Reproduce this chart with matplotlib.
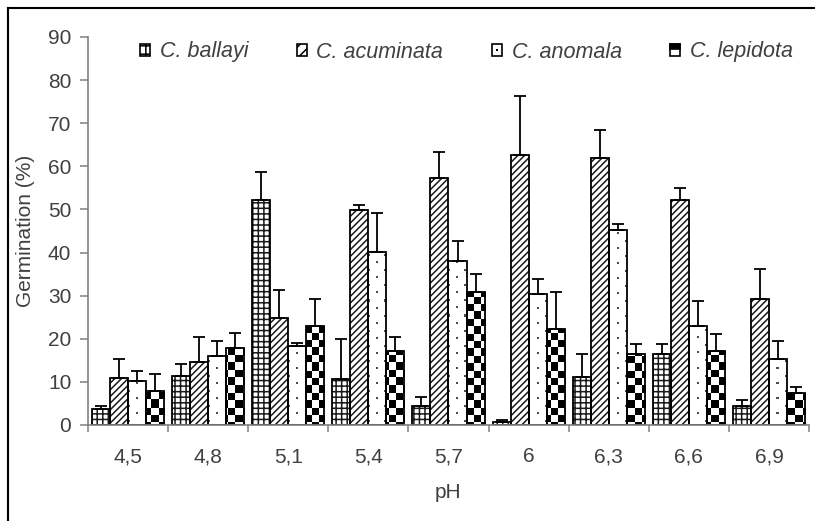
import numpy as np
import matplotlib
matplotlib.use("Agg")
import matplotlib.pyplot as plt
from matplotlib.patches import Rectangle, Patch
from matplotlib.lines import Line2D
from matplotlib.legend_handler import HandlerBase

plt.rcParams['font.family'] = ['Liberation Sans', 'DejaVu Sans']
plt.rcParams['hatch.linewidth'] = 1.1

# ---- data ----
ph_labels = ['4,5', '4,8', '5,1', '5,4', '5,7', '6', '6,3', '6,6', '6,9']
species = ['C. ballayi', 'C. acuminata', 'C. anomala', 'C. lepidota']

ballayi = [3.6, 11.4, 52.2, 10.6, 4.4, 0.8, 11.1, 16.4, 4.4]
ballayi_sd = [0.8, 2.7, 6.6, 9.3, 2.0, 0.4, 5.3, 2.4, 1.5]
acuminata = [11.0, 14.5, 24.9, 49.9, 57.2, 62.6, 62.0, 52.2, 29.2]
acuminata_sd = [4.3, 5.8, 6.3, 1.1, 6.2, 13.7, 6.5, 2.7, 7.1]
anomala = [10.2, 16.0, 18.3, 40.2, 38.1, 30.5, 45.2, 23.0, 15.2]
anomala_sd = [2.3, 3.6, 0.8, 8.9, 4.6, 3.4, 1.5, 5.8, 4.4]
lepidota = [7.9, 17.9, 23.0, 17.2, 30.8, 22.3, 16.4, 17.2, 7.4]
lepidota_sd = [3.9, 3.5, 6.2, 3.1, 4.2, 8.5, 2.4, 3.9, 1.3]

series = [ballayi, acuminata, anomala, lepidota]
errors = [ballayi_sd, acuminata_sd, anomala_sd, lepidota_sd]

W, H = 815, 521
fig = plt.figure(figsize=(W / 100, H / 100), dpi=100)
ax_l, ax_r, ax_b, ax_t = 88, 809, 425, 37
ax = fig.add_axes([ax_l / W, (H - ax_b) / H, (ax_r - ax_l) / W, (ax_b - ax_t) / H])

n = len(ph_labels)
xc = np.arange(n)
bw = 0.225
off = 0.05
YMAX = 90

# textures (pixel resolution of the axes)
pw, ph_ = ax_r - ax_l, ax_b - ax_t
yy, xx = np.indices((ph_, pw))
checker = np.zeros((ph_, pw, 4))
blk = ((xx // 7) + (yy // 7.4).astype(int)) % 2 == 0
checker[blk] = [0, 0, 0, 1]
dots = np.zeros((ph_, pw, 4))
row = (yy // 7.5).astype(int)
ry = (yy % 7.5) < 1.6
cx = ((xx + np.where(row % 2 == 1, 8, 0)) % 16) < 1.6
dots[ry & cx] = [0.3, 0.3, 0.3, 1]

hatches = ['+++', '/////', None, None]
textures = [None, None, dots, checker]

for i, (vals, sd) in enumerate(zip(series, errors)):
    x = xc + off + bw * (i + 0.5)
    if hatches[i]:
        ax.bar(x, vals, bw, facecolor='white', edgecolor='#1a1a1a', linewidth=0,
               hatch=hatches[i], zorder=2)
    else:
        bars = ax.bar(x, vals, bw, facecolor='white', linewidth=0, zorder=2)
        for b in bars:
            im = ax.imshow(textures[i], extent=(0, n, 0, YMAX), aspect='auto',
                           interpolation='nearest', zorder=2.1)
            im.set_clip_path(b)
    ax.bar(x, vals, bw, facecolor='none', edgecolor='black', linewidth=1.3, zorder=2.3)
    ax.errorbar(x, vals, yerr=[np.zeros(n), sd], fmt='none', ecolor='black',
                elinewidth=1.3, capsize=4.5, capthick=1.3, zorder=3)

ax.set_xlim(0, n)
ax.set_ylim(0, YMAX)

txt = '#404040'
for s in ['top', 'right']:
    ax.spines[s].set_visible(False)
for s in ['left', 'bottom']:
    ax.spines[s].set_color('#808080')
    ax.spines[s].set_linewidth(1.2)

ax.set_yticks(np.arange(0, 91, 10))
ax.tick_params(axis='y', length=6, width=1.1, color='#808080', labelsize=15,
               labelcolor=txt, pad=6)
ax.set_xticks(np.arange(0, n + 1))
ax.set_xticklabels([])
ax.tick_params(axis='x', which='major', length=5, width=1.1, color='#808080')
ax.set_xticks(xc + 0.5, minor=True)
ax.set_xticklabels(ph_labels, minor=True)
ax.tick_params(axis='x', which='minor', length=0, labelsize=15, labelcolor=txt, pad=16)

ax.set_xlabel('pH', fontsize=15, color=txt, labelpad=12)
ax.set_ylabel('Germination (%)', fontsize=15, color=txt, labelpad=9)


class LepHandler(HandlerBase):
    def create_artists(self, legend, orig_handle, xdescent, ydescent, width, height,
                       fontsize, trans):
        r = Rectangle((-xdescent, -ydescent), width, height, facecolor='white',
                      edgecolor='black', linewidth=1.2, transform=trans)
        t = Rectangle((-xdescent, -ydescent + height * 0.55), width, height * 0.45,
                      facecolor='black', edgecolor='black', linewidth=1.2, transform=trans)
        return [r, t]


class DotHandler(HandlerBase):
    def create_artists(self, legend, orig_handle, xdescent, ydescent, width, height,
                       fontsize, trans):
        r = Rectangle((-xdescent, -ydescent), width, height, facecolor='white',
                      edgecolor='black', linewidth=1.2, transform=trans)
        d = Rectangle((-xdescent + width * 0.4, -ydescent + height * 0.4), width * 0.2,
                      height * 0.2, facecolor='black', edgecolor='none', transform=trans)
        return [r, d]


h_ball = Patch(facecolor='white', edgecolor='black', hatch='++', linewidth=1.2)
h_acu = Patch(facecolor='white', edgecolor='black', hatch='///', linewidth=1.2)
h_ano = Patch(facecolor='white', edgecolor='black')
h_lep = Patch(facecolor='white', edgecolor='black')

leg = ax.legend([h_ball, h_acu, h_ano, h_lep], species, ncol=4, frameon=False,
                prop={'size': 15.5, 'style': 'italic'}, handlelength=0.47,
                handleheight=0.47, handletextpad=0.45, columnspacing=2.25,
                loc='center left', bbox_to_anchor=((145 - ax_l) / pw - 0.019, (ax_b - 52) / ph_),
                borderaxespad=0,
                handler_map={h_ano: DotHandler(), h_lep: LepHandler()})
for t in leg.get_texts():
    t.set_color(txt)

# outer frame (left and top only visible)
fig.add_artist(Line2D([8 / W, 8 / W], [0, 1 - 8 / H], transform=fig.transFigure,
                      color='black', linewidth=1.5))
fig.add_artist(Line2D([8 / W, 1], [1 - 8 / H, 1 - 8 / H], transform=fig.transFigure,
                      color='black', linewidth=1.5))

fig.savefig('out.png', dpi=100)
